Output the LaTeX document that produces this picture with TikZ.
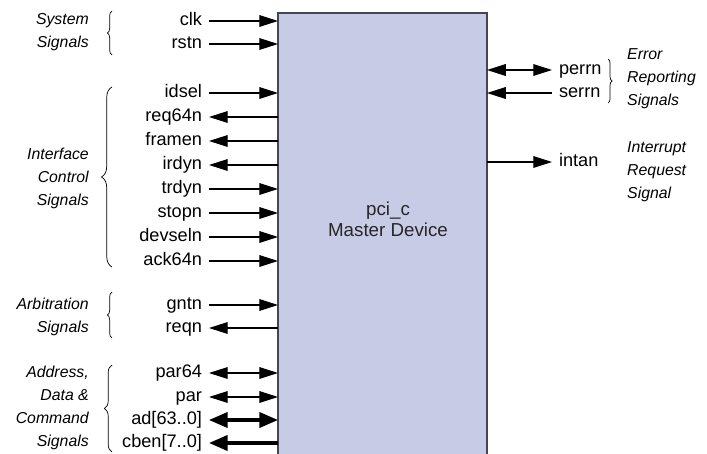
\documentclass[tikz,border=0pt]{standalone}
\usepackage{fontspec}
\setmainfont{Liberation Sans}
\usetikzlibrary{arrows.meta, decorations.pathreplacing}

\definecolor{devfill}{RGB}{200,203,230}
\definecolor{devline}{RGB}{70,70,78}

\tikzset{
    sig/.style={font=\fontsize{15.5}{18}\selectfont, text height=10.5pt, text depth=3pt,
        inner sep=2.5pt, outer sep=3.5pt},
    grp/.style={font=\fontsize{13.5}{19.6}\selectfont\itshape, inner sep=0pt},
    wire/.style={line width=1pt, >={Triangle[length=16pt, width=10pt]}},
    insig/.style={wire, ->},
    outsig/.style={wire, <-},
    bisig/.style={wire, <->},
    bus/.style={line width=2.8pt, >={Triangle[length=16pt, width=13pt]}},
    bibus/.style={bus, <->},
    outbus/.style={bus, <-},
    grpbrace/.style={decorate, decoration={brace, amplitude=#1}, line width=0.6pt},
}

\begin{document}
\begin{tikzpicture}[x=0.03cm, y=-0.03cm]
    \useasboundingbox (0,0) rectangle (707,454);

    % 1. Device block
    \node[draw=devline, fill=devfill, line width=1.2pt, inner sep=0pt, outer sep=0pt,
        minimum width=6.27cm, minimum height=13.5cm, anchor=north west] (dev) at (278,13) {};
    \node[font=\fontsize{16}{18}\selectfont, align=center, text=black!85] (devname)
        at (388,219) {pci\_c\\Master Device};

    % 2. Left side signals
    \foreach \nm/\txt/\yy/\kind in {clk/clk/21/insig, rstn/rstn/44/insig,
            idsel/idsel/93/insig, req64n/req64n/117/outsig, framen/framen/141/outsig,
            irdyn/irdyn/165/outsig, trdyn/trdyn/189/insig, stopn/stopn/213/insig,
            devseln/devseln/237/insig, ack64n/ack64n/261/insig,
            gntn/gntn/305/insig, reqn/reqn/328/outsig,
            par64/par64/373/bisig, par/par/397/bisig,
            ad/{ad[63..0]}/420/bibus, cben/{cben[7..0]}/443/outbus} {
        \node[sig, anchor=east] (\nm) at (209,\yy) {\txt};
        \draw[\kind] (\nm.east) -- (\nm.east -| dev.west);
    }

    % 3. Right side signals
    \foreach \nm/\yy/\kind in {perrn/70/bisig, serrn/93/outsig, intan/162/insig} {
        \node[sig, anchor=west] (\nm) at (552,\yy) {\nm};
        \draw[\kind] (\nm.west -| dev.east) -- (\nm.west);
    }

    % 4. Group labels
    \node[grp, align=right, anchor=east] (sysgrp) at (89,32.5) {System\\Signals};
    \node[grp, align=right, anchor=east] (ifcgrp) at (89,178) {Interface\\Control\\Signals};
    \node[grp, align=right, anchor=east] (arbgrp) at (89,316.5) {Arbitration\\Signals};
    \node[grp, align=right, anchor=east] (adrgrp) at (89,408) {Address,\\Data \&\\Command\\Signals};
    \node[grp, align=left, anchor=west] (errgrp) at (627,79) {Error\\Reporting\\Signals};
    \node[grp, align=left, anchor=west] (intgrp) at (627,171.5) {Interrupt\\Request\\Signal};

    % 5. Braces
    \coordinate (sysB) at (112,55);   \coordinate (sysT) at (112,11);
    \coordinate (ifcB) at (112,267);  \coordinate (ifcT) at (112,87);
    \coordinate (arbB) at (112,338);  \coordinate (arbT) at (112,292);
    \coordinate (adrB) at (112,452);  \coordinate (adrT) at (112,365);
    \coordinate (errT) at (608,59);   \coordinate (errB) at (608,103);
    \draw[grpbrace=4pt] (sysB) -- (sysT);
    \draw[grpbrace=9pt] (ifcB) -- (ifcT);
    \draw[grpbrace=4pt] (arbB) -- (arbT);
    \draw[grpbrace=6.5pt] (adrB) -- (adrT);
    \draw[grpbrace=3.5pt] (errT) -- (errB);

\end{tikzpicture}
\end{document}
